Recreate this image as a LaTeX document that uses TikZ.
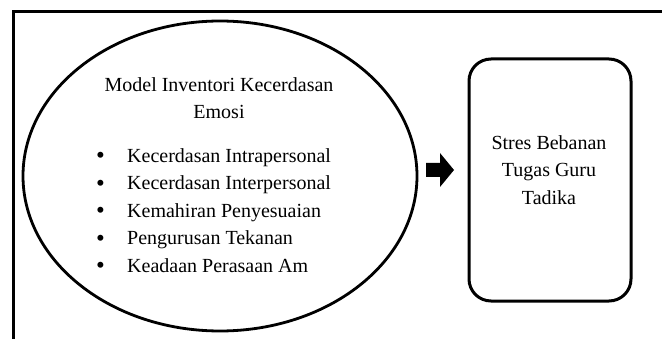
\documentclass[tikz,border=0pt]{standalone}
\usepackage{fontspec}
\setmainfont{Liberation Serif}
\usetikzlibrary{shapes.geometric}
\newcommand{\itemdot}{\makebox[31pt][l]{\raisebox{-1.2pt}{\fontsize{25}{25}\selectfont\textbullet}}}
\begin{document}
\begin{tikzpicture}[x=1pt,y=1pt,
  frame/.style={line width=3pt},
  bubble/.style={ellipse, draw, line width=2.8pt, minimum width=394pt, minimum height=310pt, inner sep=0pt},
  panel/.style={draw, line width=3pt, rounded corners=22pt, minimum width=162pt, minimum height=242pt, inner sep=0pt},
  label/.style={font=\fontsize{20}{27.5}\selectfont, inner sep=0pt, anchor=north}
]
\useasboundingbox (0,0) rectangle (662,338);
\clip (0,0) rectangle (662,338);
% open frame around the figure
\draw[frame] (13,-20) -- (13,326) -- (680,326);
% left: emotional intelligence model
\node[bubble] (model) at (220,162) {};
\node[label, align=center] (title) at (219,338-77.3) {Model Inventori Kecerdasan\\Emosi};
\node[label, align=left, anchor=north west] (list) at (96,338-148.3) {%
  \itemdot Kecerdasan Intrapersonal\\
  \itemdot Kecerdasan Interpersonal\\
  \itemdot Kemahiran Penyesuaian\\
  \itemdot Pengurusan Tekanan\\
  \itemdot Keadaan Perasaan Am};
% right: outcome box
\node[panel] (stress) at (550,338-180) {};
\node[label, align=center] (stresstext) at (549,338-135.3) {Stres Bebanan\\Tugas Guru\\Tadika};
% block arrow between the two
\fill (426,338-163) -- (440,338-163) -- (440,338-153) -- (454,338-170)
      -- (440,338-187) -- (440,338-177) -- (426,338-177) -- cycle;
\end{tikzpicture}
\end{document}
